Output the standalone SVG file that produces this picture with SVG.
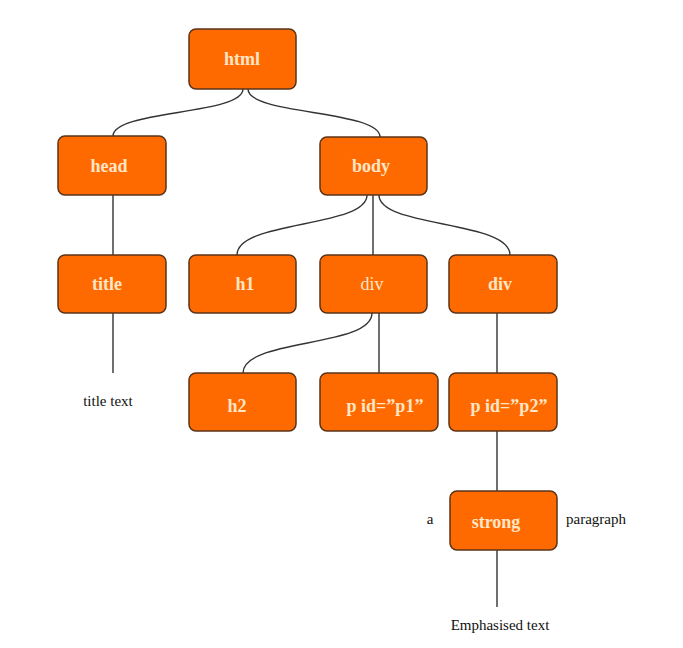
<svg xmlns="http://www.w3.org/2000/svg" width="683" height="648" viewBox="0 0 683 648">
<style>
.box{fill:#ff6a00;stroke:#5a3418;stroke-width:1.5}
.lbl{font-family:'Liberation Serif','DejaVu Serif','Times New Roman',serif;font-size:18px;font-weight:bold;fill:#ffe6c6;text-anchor:middle}
.thin{font-weight:normal}
.txt{font-family:'Liberation Serif','DejaVu Serif','Times New Roman',serif;font-size:15px;fill:#111}
.con{fill:none;stroke:#333;stroke-width:1.4}
</style>
<rect width="683" height="648" fill="#fff"/>
<g id="connectors">
<path class="con" d="M243 89 C243 115 113 110 113 136"/>
<path class="con" d="M248 89 C248 115 380 110 380 137"/>
<line class="con" x1="113" y1="195" x2="113" y2="255"/>
<line class="con" x1="113" y1="313" x2="113" y2="373"/>
<path class="con" d="M367 195 C367 228 237 220 237 255"/>
<line class="con" x1="373" y1="195" x2="373" y2="255"/>
<path class="con" d="M379 195 C379 228 510 220 510 255"/>
<path class="con" d="M372 313 C372 348 243 338 243 373"/>
<line class="con" x1="379" y1="313" x2="379" y2="373"/>
<line class="con" x1="497" y1="313" x2="497" y2="373"/>
<line class="con" x1="497" y1="431" x2="497" y2="491"/>
<line class="con" x1="497" y1="550" x2="497" y2="607"/>
</g>
<g id="html"><rect class="box" x="189" y="29" width="107" height="60" rx="7"/><text class="lbl" x="242" y="65">html</text></g>
<g id="head"><rect class="box" x="58" y="136" width="108" height="59" rx="7"/><text class="lbl" x="109" y="172">head</text></g>
<g id="body"><rect class="box" x="320" y="137" width="107" height="58" rx="7"/><text class="lbl" x="371" y="172">body</text></g>
<g id="title"><rect class="box" x="58" y="255" width="108" height="58" rx="7"/><text class="lbl" x="107" y="290">title</text></g>
<g id="h1"><rect class="box" x="189" y="255" width="107" height="58" rx="7"/><text class="lbl" x="245" y="290">h1</text></g>
<g id="div1"><rect class="box" x="320" y="255" width="107" height="58" rx="7"/><text class="lbl thin" x="372" y="290">div</text></g>
<g id="div2"><rect class="box" x="449" y="255" width="108" height="58" rx="7"/><text class="lbl" x="500" y="290">div</text></g>
<g id="h2"><rect class="box" x="189" y="373" width="107" height="58" rx="7"/><text class="lbl" x="237" y="412">h2</text></g>
<g id="p1"><rect class="box" x="320" y="373" width="118" height="58" rx="7"/><text class="lbl" x="385" y="412">p id=”p1”</text></g>
<g id="p2"><rect class="box" x="449" y="373" width="108" height="58" rx="7"/><text class="lbl" x="509" y="412">p id=”p2”</text></g>
<g id="strong"><rect class="box" x="450" y="491" width="107" height="59" rx="7"/><text class="lbl" x="496" y="528">strong</text></g>
<g id="texts">
<text class="txt" x="108" y="406" text-anchor="middle">title text</text>
<text class="txt" x="430" y="524" text-anchor="middle">a</text>
<text class="txt" x="566" y="524">paragraph</text>
<text class="txt" x="500" y="630" text-anchor="middle">Emphasised text</text>
</g>
</svg>
